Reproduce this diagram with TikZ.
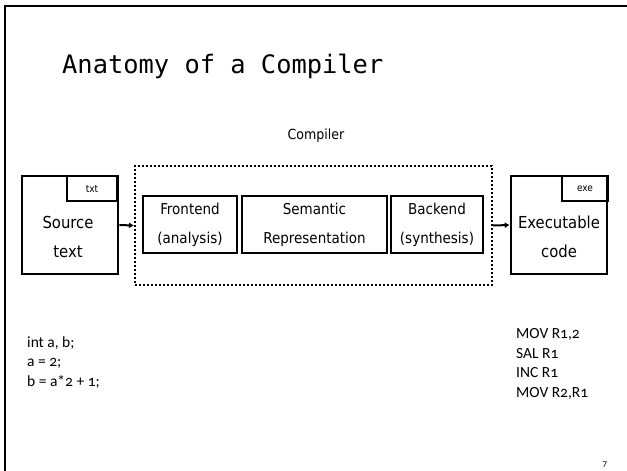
\documentclass[tikz,border=0pt]{standalone}
\usepackage{fontspec}
\newfontfamily\titlefont{DejaVu Sans Mono}
\newfontfamily\labelfont{DejaVu Sans Condensed}
\newfontfamily\codefont[Numbers=OldStyle]{Carlito}
\usetikzlibrary{arrows.meta}

\begin{document}
\begin{tikzpicture}[x=1pt,y=-1pt,
  filebox/.style={draw, line width=2.6pt, inner sep=0pt, minimum width=96pt, minimum height=98pt},
  tagbox/.style={draw, line width=2.6pt, inner sep=0pt, minimum height=25pt, font=\labelfont\fontsize{10}{12}\selectfont},
  stagebox/.style={draw, line width=2.4pt, inner sep=0pt, minimum height=57pt, align=center,
                   font=\labelfont\fontsize{15}{29}\selectfont},
  biglabel/.style={align=center, inner sep=0pt, font=\labelfont\fontsize{16.5}{29}\selectfont},
  group/.style={draw, line width=2pt, dash pattern=on 2pt off 2pt, inner sep=0pt},
  flow/.style={line width=2pt, -{Latex[length=5pt,width=6pt]}},
  code/.style={align=left, inner sep=0pt, anchor=base west, font=\codefont\fontsize{15.5}{19.5}\selectfont}]
\useasboundingbox (0,0) rectangle (627,471);

% slide frame
\draw[line width=2pt] (5,471) -- (5,6) -- (627,6);

% title
\node[anchor=base west, inner sep=0pt, font=\titlefont\fontsize{25.4}{30}\selectfont] (title) at (62,73) {Anatomy of a Compiler};

% input file
\node[filebox] (src) at (70,225) {};
\node[tagbox, minimum width=50pt] (srctag) at (92,188.5) {txt};
\node[biglabel] (srclabel) at (68,236.5) {Source\\text};

% compiler stages
\node[group, minimum width=357pt, minimum height=119pt] (comp) at (313.5,225.5) {};
\node[anchor=base, inner sep=0pt, font=\labelfont\fontsize{14}{17}\selectfont] (complabel) at (316,139) {Compiler};
\node[stagebox, minimum width=94pt] (fe) at (190,224.5) {Frontend\\(analysis)};
\node[stagebox, minimum width=145pt] (sem) at (314.5,224.5) {Semantic\\Representation};
\node[stagebox, minimum width=92pt] (be) at (437,224.5) {Backend\\(synthesis)};

% output file
\node[filebox] (exe) at (559,225) {};
\node[tagbox, minimum width=46pt] (exetag) at (585,188.5) {exe};
\node[biglabel] (exelabel) at (559,236.5) {Executable\\code};

% data flow
\draw[flow] (src.east) -- (comp.west);
\draw[flow] (comp.east) -- (exe.west);

% code samples (base anchor sits on the last line)
\node[code] (srccode) at (27,386) {int a, b;\\a = 2;\\b = a*2 + 1;};
\node[code] (asmcode) at (516,397) {MOV R1,2\\SAL R1\\INC R1\\MOV R2,R1};

% page number
\node[anchor=base, inner sep=0pt, font=\codefont\fontsize{9}{10}\selectfont] (pagenum) at (605,466) {7};
\end{tikzpicture}
\end{document}
